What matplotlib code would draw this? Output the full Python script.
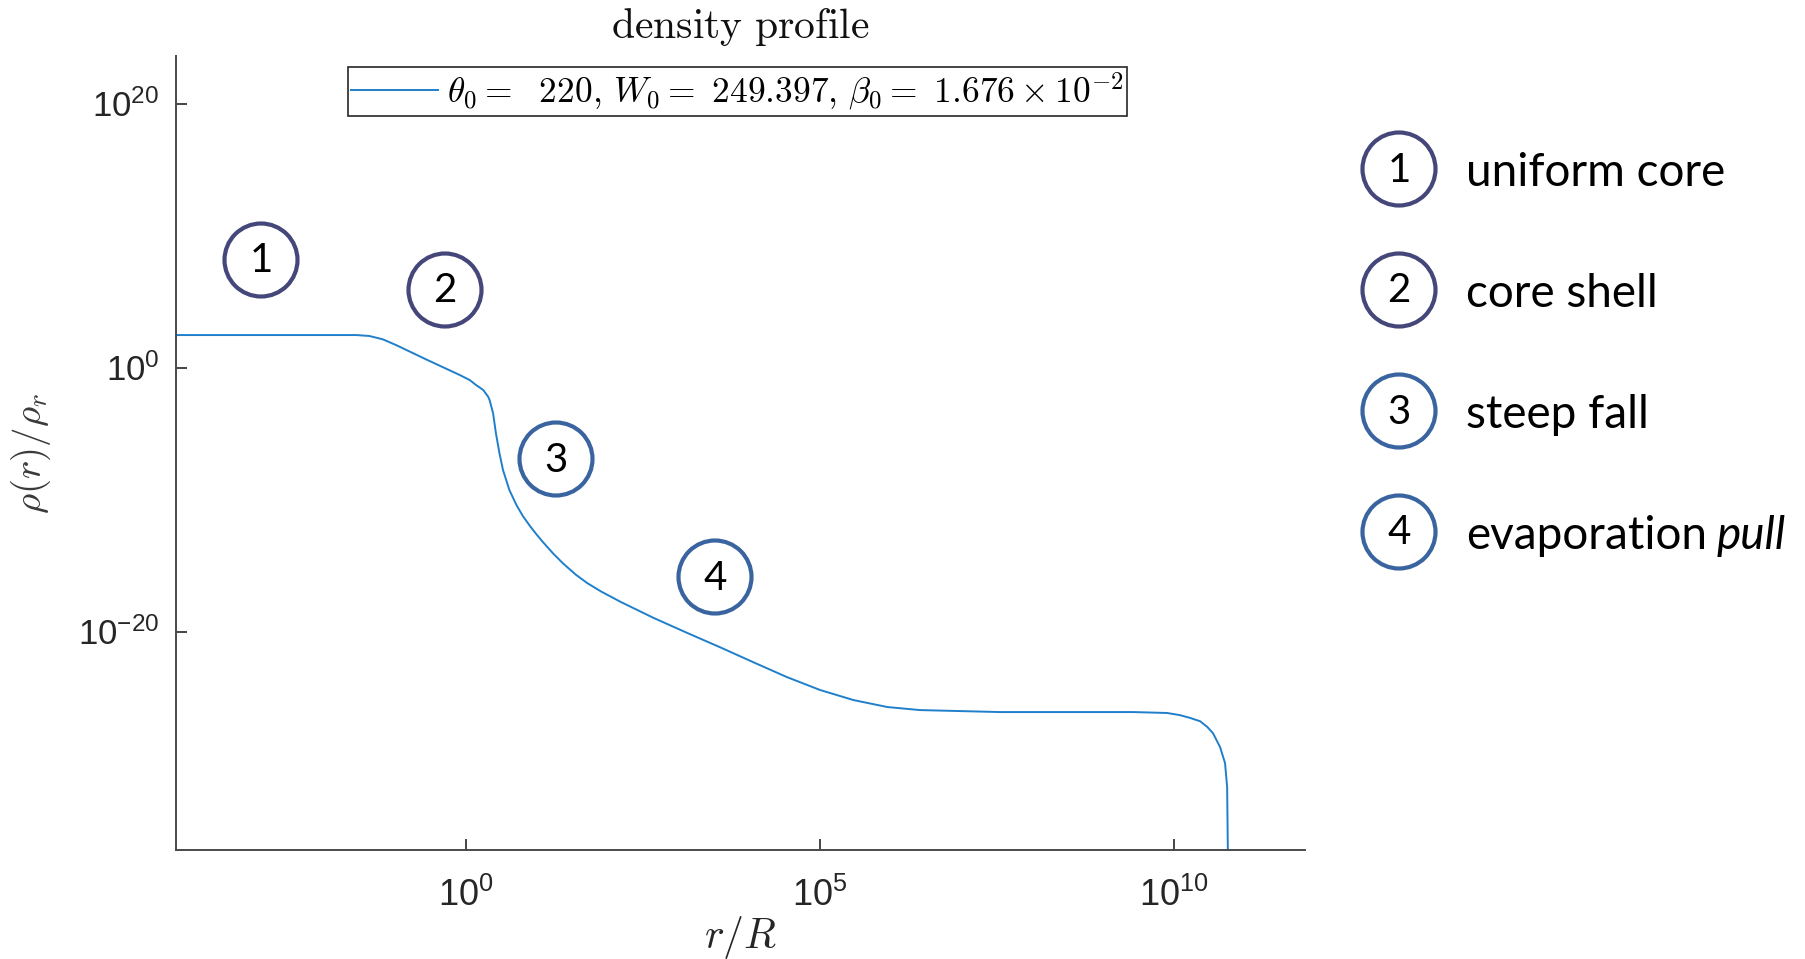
import numpy as np
import matplotlib
matplotlib.use("Agg")
import matplotlib.pyplot as plt
from matplotlib.patches import Circle
from matplotlib.ticker import FixedLocator, NullLocator


# density profile, log10(r/R) and log10(rho/rho_r) along the curve
log_r = [-4.10, -1.55, -1.37, -1.18, -0.99, -0.56, -0.09, 0.05, 0.14,
         0.24, 0.31, 0.33, 0.38, 0.42, 0.47, 0.52, 0.61, 0.71, 0.80,
         0.90, 0.99, 1.08, 1.23, 1.37, 1.55, 1.71, 1.90, 2.18, 2.64,
         3.12, 3.59, 4.05, 4.53, 5.00, 5.47, 5.95, 6.41, 7.54, 8.49,
         9.42, 9.90, 10.08, 10.23, 10.37, 10.47, 10.55, 10.65, 10.72,
         10.75, 10.76, 10.77]
log_rho = [2.46, 2.46, 2.39, 2.14, 1.70, 0.60, -0.57, -0.95, -1.33,
           -1.70, -2.21, -2.46, -3.47, -4.99, -6.50, -7.77, -9.28, -10.42, -11.25,
           -12.00, -12.62, -13.20, -14.10, -14.85, -15.70, -16.33, -16.95, -17.75, -18.95,
           -20.10, -21.20, -22.31, -23.45, -24.43, -25.19, -25.72, -25.95, -26.10, -26.10,
           -26.10, -26.17, -26.33, -26.55, -26.80, -27.23, -27.70, -28.75, -29.96,
           -31.78, -36.60, -40.00]

theta0 = 220
w0 = 249.397
beta0 = 1.676e-2

x_ticks = [1e0, 1e5, 1e10]
y_ticks = [1e-20, 1e0, 1e20]

stage_labels = ["1", "2", "3", "4"]
stage_names = ["uniform core", "core shell", "steep fall", "evaporation"]
stage_extra = ["", "", "", "pull"]

# layout, in figure pixels (origin top left)
W, H = 1806, 959
AX_LEFT, AX_RIGHT, AX_TOP, AX_BOTTOM = 176, 1305, 56, 850
marker_xy = [(261, 260), (445, 290), (556, 459), (715, 577)]
key_x, key_text_x = 1399, 1466
key_y = [169, 290, 411, 532]
ring_colors = ["#45467A", "#45467A", "#3A64A0", "#3A64A0"]

plt.rcParams["mathtext.fontset"] = "cm"
plt.rcParams["font.family"] = ["Liberation Sans", "DejaVu Sans"]
plt.rcParams["axes.unicode_minus"] = False

fig = plt.figure(figsize=(W / 100, H / 100), dpi=100)
ax = fig.add_axes([AX_LEFT / W, 1 - AX_BOTTOM / H,
                   (AX_RIGHT - AX_LEFT) / W, (AX_BOTTOM - AX_TOP) / H])

label = (r"$\theta_0 =\ \ %d,\, W_0 =\ %.3f,\, \beta_0 =\ %.3f\times 10^{-2}$"
         % (theta0, w0, beta0 * 100))
ax.plot(10 ** np.array(log_r), 10 ** np.array(log_rho),
        color="#1f7fcb", lw=1.4, label=label)

ax.set_xscale("log")
ax.set_yscale("log")
ax.set_xlim(10 ** -4.10, 10 ** 11.85)
ax.set_ylim(10 ** -36.55, 10 ** 23.6)
ax.xaxis.set_major_locator(FixedLocator(x_ticks))
ax.yaxis.set_major_locator(FixedLocator(y_ticks))
ax.xaxis.set_minor_locator(NullLocator())
ax.yaxis.set_minor_locator(NullLocator())

for side in ["top", "right"]:
    ax.spines[side].set_visible(False)
for side in ["left", "bottom"]:
    ax.spines[side].set_color("#4a4a4a")
    ax.spines[side].set_linewidth(1.4)

ax.tick_params(direction="in", length=8, width=1.2, colors="#262626")
ax.tick_params(axis="x", labelsize=26, pad=20)
ax.tick_params(axis="y", labelsize=25, pad=12)

ax.set_title(r"$\mathrm{density\ profile}$", fontsize=30, pad=13, color="#111111")
ax.set_xlabel(r"$r/R$", fontsize=30, color="#262626", labelpad=0)
ax.set_ylabel(r"$\rho(r)/\rho_r$", fontsize=28, color="#3a3a3a", labelpad=18)

leg = ax.legend(loc="upper center", bbox_to_anchor=(737.5 / W, 1 - 67 / H),
                bbox_transform=fig.transFigure, fancybox=False, framealpha=1,
                edgecolor="#262626", borderaxespad=0, fontsize=25.5,
                handlelength=2.45, handletextpad=0.25, borderpad=0.1)
leg.get_frame().set_linewidth(1.2)

# pixel overlay for the numbered rings and the key
ov = fig.add_axes([0, 0, 1, 1], zorder=5)
ov.set_xlim(0, W)
ov.set_ylim(H, 0)
ov.axis("off")

ring_font = dict(family=["Lato", "DejaVu Sans"], fontsize=29, color="black",
                 ha="center", va="center")
for (cx, cy), num, col in zip(marker_xy, stage_labels, ring_colors):
    ov.add_patch(Circle((cx, cy), 36.5, fill=False, lw=3, edgecolor=col))
    ov.text(cx, cy + 1, num, **ring_font)

for y, num, col, name, extra in zip(key_y, stage_labels, ring_colors,
                                     stage_names, stage_extra):
    ov.add_patch(Circle((key_x, y), 36.5, fill=False, lw=3, edgecolor=col))
    ov.text(key_x, y + 1, num, **ring_font)
    t = ov.text(key_text_x, y + 17, name, family=["Lato", "DejaVu Sans"],
                fontsize=33, color="black", ha="left", va="baseline")
    if extra:
        ov.annotate(extra, xy=(1, 0), xycoords=t, xytext=(10, 0),
                    textcoords="offset pixels", family=["Lato", "DejaVu Sans"],
                    style="italic", fontsize=33, color="black",
                    ha="left", va="bottom")

fig.savefig("out.png", dpi=100)
